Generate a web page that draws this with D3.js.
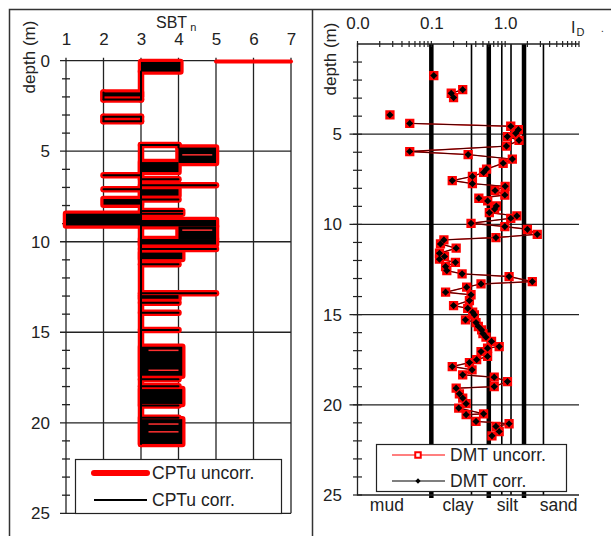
<!DOCTYPE html>
<html lang="en">
<head>
<meta charset="UTF-8">
<title>SBTn and ID profiles</title>
<script src="https://d3js.org/d3.v7.min.js"></script>
<style>
  body { margin: 0; background: #fff; }
  svg { display: block; font-family: "Liberation Sans", Arial, sans-serif; }
  text { fill: #222; }
</style>
</head>
<body>
<div id="chart"></div>
<script>
// ---------------- data ----------------
// CPTu SBTn profile (corrected and uncorrected traces overlap)
// vertical stretches: [sbtn, depthFrom, depthTo]
var sbtRuns = [
  [3, 0.6, 2.15], [2, 1.75, 2.15], [2, 3.1, 3.35], [3, 3.1, 3.35],
  [4, 4.65, 4.8], [3, 4.65, 21.17]
];
// single excursions: [depth, sbtnFrom, sbtnTo]
var sbtSpikes = [
  [2.15, 2, 3], [3.1, 2, 3], [3.35, 2, 3], [4.65, 3, 4],
  [6.33, 2, 3], [6.55, 3, 4], [6.88, 3, 5], [7.1, 2, 3], [7.67, 3, 4],
  [8.3, 3, 4.1], [8.45, 3, 4.1], [10.4, 3, 5], [11.25, 3, 4],
  [12.85, 3, 5], [13.37, 3, 4], [13.92, 3, 4], [14.88, 3, 4],
  [17.6, 3, 4], [17.98, 3, 4], [19.05, 3, 4], [19.72, 3, 4]
];
// dense stretches (trace oscillates, looks solid): [depthFrom, depthTo, sbtnFrom, sbtnTo]
var sbtBands = [
  [0.07, 0.6, 3, 4.05], [1.75, 1.97, 2, 3], [4.8, 5.65, 4, 5],
  [5.6, 6.15, 3, 4], [7.1, 7.45, 3, 4], [7.64, 7.95, 2, 3],
  [8.45, 9.1, 1, 3], [8.8, 9.15, 3, 5], [9.15, 9.85, 4, 5],
  [9.85, 10.15, 3, 5], [10.6, 10.96, 3, 4.1], [12.95, 13.15, 3, 4],
  [15.8, 17.4, 3, 4.1], [18.14, 18.96, 3, 4.1], [19.8, 21.17, 3, 4.1]
];
// short openings inside the dense stretches: [depth, sbtnFrom, sbtnTo]
var sbtOpenings = [
  [5.2, 4.1, 4.9], [9.36, 4.1, 4.9], [16.0, 3.2, 4], [17.1, 3.2, 4],
  [20.07, 3.2, 4], [20.5, 3.2, 4]
];
// only in the uncorrected trace
var sbtUncorrOnly = [[0.05, 5, 7]];

var sbtTicks = [1, 2, 3, 4, 5, 6, 7];
var depthTicks = [0, 5, 10, 15, 20, 25];

// DMT material index ID
var dmtDepth = [1.75, 2.53, 2.73, 2.97, 3.93, 4.40, 4.56, 4.75, 4.95, 5.13, 5.34, 5.66,
  5.96, 6.13, 6.38, 6.61, 6.93, 7.12, 7.34, 7.57, 7.74, 7.89, 8.12, 8.37, 8.55, 8.70,
  8.98, 9.15, 9.35, 9.53, 9.66, 9.94, 10.12, 10.27, 10.55, 10.73, 10.86, 11.08, 11.32,
  11.60, 11.78, 11.93, 12.10, 12.34, 12.56, 12.74, 12.89, 13.17, 13.30, 13.48, 13.76,
  13.90, 14.22, 14.50, 14.65, 14.87, 15.01, 15.29, 15.44, 15.66, 15.85, 16.05, 16.25,
  16.49, 16.77, 16.86, 17.05, 17.32, 17.50, 17.66, 17.88, 18.06, 18.34, 18.47, 18.71,
  18.99, 19.08, 19.39, 19.63, 19.94, 20.18, 20.50, 20.55, 20.92, 21.05, 21.20, 21.48, 21.72];
var dmtIdCorr = [0.108, 0.266, 0.186, 0.200, 0.0275, 0.051, 1.19, 1.51, 1.39, 1.07, 1.54, 1.04,
  0.051, 0.315, 1.25, 0.94, 0.56, 0.51, 0.36, 0.192, 0.36, 1.0, 0.73, 0.99, 0.44, 0.58,
  0.76, 0.72, 0.61, 1.44, 1.19, 0.345, 0.99, 2.0, 2.72, 0.75, 0.148, 0.133, 0.217,
  0.129, 0.151, 0.129, 0.212, 0.156, 0.162, 0.261, 1.13, 2.33, 0.471, 0.301, 0.156,
  0.345, 0.328, 0.200, 0.311, 0.363, 0.383, 0.290, 0.403, 0.433, 0.480, 0.50, 0.550,
  0.654, 0.830, 0.578, 0.471, 0.578, 0.411, 0.328, 0.192, 0.356, 0.266, 0.711, 1.074,
  0.711, 0.217, 0.240, 0.266, 0.296, 0.235, 0.510, 0.296, 0.403, 1.13, 0.750, 0.830, 0.662];
// the correction is smaller than the marker at this scale
var dmtIdUncorr = dmtIdCorr.slice();

var idMainBounds = [0.1, 0.6, 1.8];
var idSubBounds = [0.35, 0.9, 1.2, 3.3];
var idLabelTicks = [0.01, 0.1, 1];
var soilZones = ["mud", "clay", "silt", "sand"];
var soilZoneAt = [0.025, 0.23, 1.07, 5.3];
var rightDepthTicks = [5, 10, 15, 20, 25];

// ---------------- chart ----------------
var svg = d3.select("#chart").append("svg")
    .attr("width", 611)
    .attr("height", 536);

// outer frame and divider
svg.append("path")
    .attr("d", "M9.5,536V9.5H611M312.5,9.5V536")
    .attr("fill", "none")
    .attr("stroke", "#333")
    .attr("stroke-width", 1.5);

// ===== left panel: SBTn =====
var xL = d3.scaleLinear().domain([1, 7]).range([66, 291]);
var yL = d3.scaleLinear().domain([0, 25]).range([60.7, 513.3]);
var left = svg.append("g");

left.selectAll(".vg").data(sbtTicks).enter().append("line")
    .attr("x1", function(d) { return xL(d); })
    .attr("x2", function(d) { return xL(d); })
    .attr("y1", yL(0) - 3)
    .attr("y2", yL(25))
    .attr("stroke", "#222").attr("stroke-width", 1.3);
left.selectAll(".hg").data(depthTicks).enter().append("line")
    .attr("x1", xL(1) - 6)
    .attr("x2", xL(7))
    .attr("y1", function(d) { return yL(d); })
    .attr("y2", function(d) { return yL(d); })
    .attr("stroke", "#222").attr("stroke-width", 1.3);
// minor depth ticks every metre
left.selectAll(".mt").data(yL.ticks(25).filter(function(d) { return d % 5; })).enter().append("line")
    .attr("x1", xL(1) - 4).attr("x2", xL(1) + 4)
    .attr("y1", function(d) { return yL(d); })
    .attr("y2", function(d) { return yL(d); })
    .attr("stroke", "#222").attr("stroke-width", 1.3);

left.append("g")
    .attr("transform", "translate(0," + yL(0) + ")")
    .call(d3.axisTop(xL).tickValues(sbtTicks).tickFormat(d3.format("d")).tickSize(0).tickPadding(16))
    .call(function(g) { g.select(".domain").remove(); });
left.append("g")
    .attr("transform", "translate(" + xL(1) + ",0)")
    .call(d3.axisLeft(yL).tickValues(depthTicks).tickFormat(d3.format("d")).tickSize(0).tickPadding(16))
    .call(function(g) { g.select(".domain").remove(); });
left.selectAll(".tick text").attr("font-size", 17).attr("font-family", "Liberation Sans, Arial, sans-serif").attr("fill", "#222");

var sbtTitle = left.append("text").attr("x", 156).attr("y", 28).attr("font-size", 16);
sbtTitle.append("tspan").text("SBT");
sbtTitle.append("tspan").attr("dx", 3).attr("dy", 3).attr("font-size", 11).text("n");
left.append("text")
    .attr("transform", "translate(35,57) rotate(-90)")
    .attr("text-anchor", "middle")
    .attr("font-size", 17)
    .text("depth (m)");

function drawProfile(g, colour, w, core) {
  g.selectAll(".run").data(sbtRuns).enter().append("line")
      .attr("x1", function(d) { return xL(d[0]); })
      .attr("x2", function(d) { return xL(d[0]); })
      .attr("y1", function(d) { return yL(d[1]); })
      .attr("y2", function(d) { return yL(d[2]); })
      .attr("stroke", colour).attr("stroke-width", w).attr("stroke-linecap", "round");
  g.selectAll(".spk").data(sbtSpikes).enter().append("line")
      .attr("x1", function(d) { return xL(d[1]); })
      .attr("x2", function(d) { return xL(d[2]); })
      .attr("y1", function(d) { return yL(d[0]); })
      .attr("y2", function(d) { return yL(d[0]); })
      .attr("stroke", colour).attr("stroke-width", w).attr("stroke-linecap", "round");
  g.selectAll(".bnd").data(sbtBands).enter().append("rect")
      .attr("x", function(d) { return xL(d[2]); })
      .attr("y", function(d) { return yL(d[0]); })
      .attr("width", function(d) { return xL(d[3]) - xL(d[2]); })
      .attr("height", function(d) { return yL(d[1]) - yL(d[0]); })
      .attr("fill", colour)
      .attr("stroke", core ? "none" : colour)
      .attr("stroke-width", w).attr("stroke-linejoin", "round");
}
var red = left.append("g");
drawProfile(red, "#ff0000", 6.5, false);
red.selectAll(".uo").data(sbtUncorrOnly).enter().append("line")
    .attr("x1", function(d) { return xL(d[1]); })
    .attr("x2", function(d) { return xL(d[2]); })
    .attr("y1", function(d) { return yL(d[0]); })
    .attr("y2", function(d) { return yL(d[0]); })
    .attr("stroke", "#ff0000").attr("stroke-width", 4).attr("stroke-linecap", "round");
var core = left.append("g");
drawProfile(core, "#000", 2, true);
core.selectAll(".op").data(sbtOpenings).enter().append("line")
    .attr("x1", function(d) { return xL(d[1]); })
    .attr("x2", function(d) { return xL(d[2]); })
    .attr("y1", function(d) { return yL(d[0]); })
    .attr("y2", function(d) { return yL(d[0]); })
    .attr("stroke", "#ff3030").attr("stroke-width", 1.5);

// left legend
left.append("rect").attr("x", 75.5).attr("y", 459.5).attr("width", 206).attr("height", 54)
    .attr("fill", "#fff").attr("stroke", "#222").attr("stroke-width", 1.2);
left.append("line").attr("x1", 94).attr("x2", 147).attr("y1", 473).attr("y2", 473)
    .attr("stroke", "#ff0000").attr("stroke-width", 6).attr("stroke-linecap", "round");
left.append("line").attr("x1", 94).attr("x2", 147).attr("y1", 500).attr("y2", 500)
    .attr("stroke", "#000").attr("stroke-width", 2);
left.append("text").attr("x", 152).attr("y", 479).attr("font-size", 17.5).text("CPTu uncorr.");
left.append("text").attr("x", 152).attr("y", 506).attr("font-size", 17.5).text("CPTu corr.");

// ===== right panel: DMT ID =====
var xR = d3.scaleLog().domain([0.01, 10]).range([357.5, 579]);
var yR = d3.scaleLinear().domain([0, 25]).range([44, 495]);
var right = svg.append("g");

right.selectAll(".hg").data(rightDepthTicks.filter(function(d) { return d < 25; })).enter().append("line")
    .attr("x1", xR(0.01) - 8).attr("x2", xR(10))
    .attr("y1", function(d) { return yR(d); })
    .attr("y2", function(d) { return yR(d); })
    .attr("stroke", "#222").attr("stroke-width", 1.2);
right.selectAll(".sb").data(idSubBounds).enter().append("line")
    .attr("x1", function(d) { return xR(d); })
    .attr("x2", function(d) { return xR(d); })
    .attr("y1", yR(0)).attr("y2", yR(25))
    .attr("stroke", "#000").attr("stroke-width", 1.6);
right.selectAll(".mb").data(idMainBounds).enter().append("line")
    .attr("x1", function(d) { return xR(d); })
    .attr("x2", function(d) { return xR(d); })
    .attr("y1", yR(0)).attr("y2", yR(25) + 3)
    .attr("stroke", "#000").attr("stroke-width", 4.5);

// axes lines
right.append("path")
    .attr("d", "M" + xR(10) + "," + yR(0) + "H" + xR(0.01) + "V" + yR(25) + "H" + xR(10))
    .attr("fill", "none").attr("stroke", "#222").attr("stroke-width", 1.3);
right.selectAll(".xt").data(xR.ticks()).enter().append("line")
    .attr("x1", function(d) { return xR(d); })
    .attr("x2", function(d) { return xR(d); })
    .attr("y1", yR(0) - 3).attr("y2", yR(0) + 3)
    .attr("stroke", "#222").attr("stroke-width", 1.2);
right.selectAll(".yt").data(yR.ticks(25).filter(function(d) { return d > 0; })).enter().append("line")
    .attr("x1", xR(0.01) - 4.5).attr("x2", xR(0.01) + 4.5)
    .attr("y1", function(d) { return yR(d); })
    .attr("y2", function(d) { return yR(d); })
    .attr("stroke", "#222").attr("stroke-width", 1.2);

right.append("g")
    .attr("transform", "translate(0," + yR(0) + ")")
    .call(d3.axisTop(xR).tickValues(idLabelTicks).tickFormat(d3.format(".1f")).tickSize(0).tickPadding(15))
    .call(function(g) { g.select(".domain").remove(); });
right.append("g")
    .attr("transform", "translate(" + xR(0.01) + ",0)")
    .call(d3.axisLeft(yR).tickValues(rightDepthTicks).tickFormat(d3.format("d")).tickSize(0).tickPadding(15.5))
    .call(function(g) { g.select(".domain").remove(); });
right.selectAll(".tick text").attr("font-size", 17).attr("font-family", "Liberation Sans, Arial, sans-serif").attr("fill", "#222");

var idTitle = right.append("text").attr("x", xR(10) - 8).attr("y", 33).attr("font-size", 16);
idTitle.append("tspan").text("I");
idTitle.append("tspan").attr("dx", 1).attr("dy", 3).attr("font-size", 11).text("D");
right.append("text").attr("x", 601).attr("y", 32).attr("font-size", 10).text(".");
right.append("text")
    .attr("transform", "translate(336,59) rotate(-90)")
    .attr("text-anchor", "middle")
    .attr("font-size", 17)
    .text("depth (m)");

right.selectAll(".zone").data(soilZones).enter().append("text")
    .attr("x", function(d, i) { return xR(soilZoneAt[i]); })
    .attr("y", 511)
    .attr("text-anchor", "middle")
    .attr("font-size", 17.5)
    .text(function(d) { return d; });

// DMT traces: readings every ~0.2 m, a missing reading breaks the line
function toRuns(ids) {
  var runs = [];
  dmtDepth.forEach(function(d, i) {
    if (i === 0 || d - dmtDepth[i - 1] > 0.4) runs.push([]);
    runs[runs.length - 1].push([ids[i], d]);
  });
  return runs;
}
var line = d3.line()
    .x(function(d) { return xR(d[0]); })
    .y(function(d) { return yR(d[1]); });

right.selectAll(".lu").data(toRuns(dmtIdUncorr)).enter().append("path")
    .attr("d", line).attr("fill", "none").attr("stroke", "#ff0000").attr("stroke-width", 1.4);
right.selectAll(".lc").data(toRuns(dmtIdCorr)).enter().append("path")
    .attr("d", line).attr("fill", "none").attr("stroke", "#000").attr("stroke-width", 0.9).attr("stroke-opacity", 0.85);

var square = d3.symbol().type(d3.symbolSquare);
right.selectAll(".mu").data(dmtDepth).enter().append("path")
    .attr("d", square.size(46)())
    .attr("transform", function(d, i) { return "translate(" + xR(dmtIdUncorr[i]) + "," + yR(d) + ")"; })
    .attr("fill", "#ff4040").attr("stroke", "#ff0000").attr("stroke-width", 2.5);
right.selectAll(".mc").data(dmtDepth).enter().append("path")
    .attr("d", square.size(26)())
    .attr("transform", function(d, i) { return "translate(" + xR(dmtIdCorr[i]) + "," + yR(d) + ") rotate(45)"; })
    .attr("fill", "#000");

// right legend
right.append("rect").attr("x", 376.5).attr("y", 444.5).attr("width", 190).attr("height", 47)
    .attr("fill", "#fff").attr("stroke", "#222").attr("stroke-width", 1.2);
right.append("line").attr("x1", 392).attr("x2", 445).attr("y1", 455).attr("y2", 455)
    .attr("stroke", "#ff0000").attr("stroke-width", 1.2);
right.append("path").attr("d", square.size(30)())
    .attr("transform", "translate(418,455)")
    .attr("fill", "#fff").attr("stroke", "#ff0000").attr("stroke-width", 2);
right.append("line").attr("x1", 392).attr("x2", 445).attr("y1", 481).attr("y2", 481)
    .attr("stroke", "#000").attr("stroke-width", 1.2);
right.append("path").attr("d", square.size(14)())
    .attr("transform", "translate(418,481) rotate(45)")
    .attr("fill", "#000");
right.append("text").attr("x", 450).attr("y", 461).attr("font-size", 17.5).text("DMT uncorr.");
right.append("text").attr("x", 450).attr("y", 487).attr("font-size", 17.5).text("DMT corr.");
</script>
</body>
</html>
